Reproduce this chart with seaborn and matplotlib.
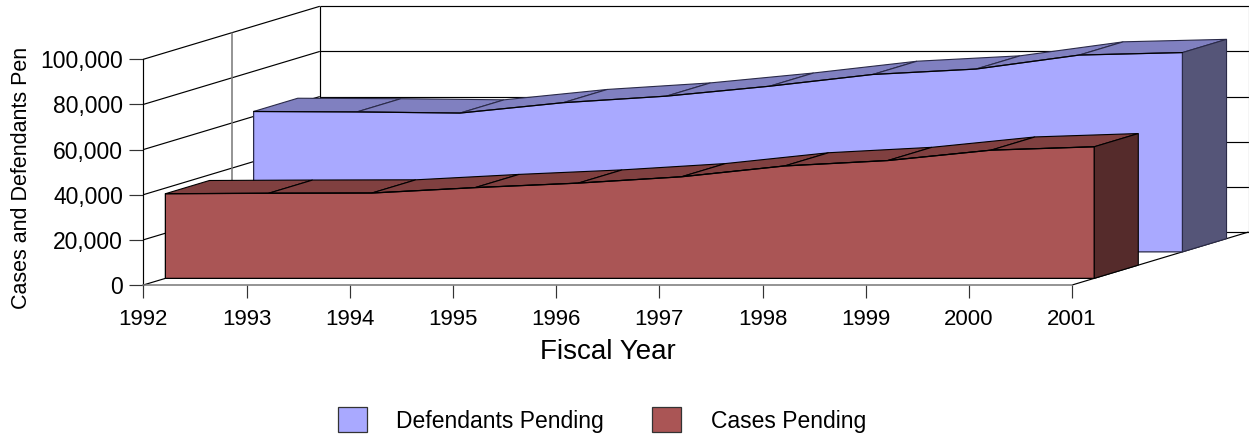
import numpy as np
import matplotlib
matplotlib.use('Agg')
import matplotlib.pyplot as plt
from matplotlib.patches import Patch
import seaborn as sns

years = [1992, 1993, 1994, 1995, 1996, 1997, 1998, 1999, 2000, 2001]
defendants_pending = [62200, 62000, 61500, 66100, 69000, 73400, 78600, 81000, 87200, 88300]
cases_pending = [37500, 37700, 37800, 40200, 42200, 45000, 49800, 52200, 56800, 58300]
y_ticks = [0, 20000, 40000, 60000, 80000, 100000]
y_tick_labels = ['0', '20,000', '40,000', '60,000', '80,000', '100,000']

W, H = 1249, 436
YEAR_PX = 103.2
VALUE_PX = 225.7 / 100000
X0_PX, Y0_PX = 143.3, 285.0

# depth axis: 0 is the front of the floor, 1 is the back wall
DEPTH_DX = 176.5 / YEAR_PX
DEPTH_DY = 53.0 / VALUE_PX


def project(year, value, depth):
    return np.asarray(year) + depth * DEPTH_DX, np.asarray(value) + depth * DEPTH_DY


def draw_ribbon(ax, values, near, far, front, top, side, edge, z):
    xs = np.array(years, dtype=float)
    vals = np.array(values, dtype=float)
    fx, fy = project(xs, vals, near)
    bx, by = project(xs, vals, far)
    base_x, base_y = project(xs, np.zeros(len(xs)), near)
    # top face, one facet per year
    for i in range(len(xs) - 1):
        ax.fill([fx[i], fx[i + 1], bx[i + 1], bx[i]], [fy[i], fy[i + 1], by[i + 1], by[i]],
                facecolor=top, edgecolor=edge, linewidth=0.8, zorder=z)
    # right side
    sx, sy = project(xs[-1], 0, far)
    ax.fill([fx[-1], bx[-1], sx, base_x[-1]], [fy[-1], by[-1], sy, base_y[-1]],
            facecolor=side, edgecolor=edge, linewidth=0.8, zorder=z)
    # front face
    ax.fill(np.r_[fx, base_x[::-1]], np.r_[fy, base_y[::-1]],
            facecolor=front, edgecolor=edge, linewidth=0.9, zorder=z + 0.1)
    sns.lineplot(x=fx, y=fy, color='black', linewidth=0.8, ax=ax, zorder=z + 0.2)


sns.set_style('white')
plt.rcParams['font.family'] = ['Liberation Sans', 'DejaVu Sans']

fig = plt.figure(figsize=(W / 100, H / 100), dpi=100)
ax = fig.add_axes([0, 0, 1, 1])
ax.patch.set_alpha(0)
ax.set_xlim(1992 - X0_PX / YEAR_PX, 1992 + (W - X0_PX) / YEAR_PX)
ax.set_ylim(-(H - Y0_PX) / VALUE_PX, Y0_PX / VALUE_PX)

# walls and floor
wall = dict(color='black', linewidth=0.85, zorder=1, solid_capstyle='butt')
for v in y_ticks:
    x_line, y_line = project([1992, 1992], [v, v], np.array([0, 1]))
    ax.plot([1992, x_line[1]], [v, y_line[1]], **wall)
    x_back, y_back = project([1992, 2001], [v, v], 1)
    ax.plot(x_back, y_back, **wall)
x_back, y_back = project([1992, 1992], [0, 100000], 1)
ax.plot(x_back, y_back, **wall)
x_back, y_back = project([2001, 2001], [0, 100000], 1)
ax.plot(x_back, y_back, color='#999999', linewidth=0.85, zorder=1)
x_mid, y_mid = project([1992, 1992], [0, 100000], 0.5)
ax.plot(x_mid, y_mid, color='#777777', linewidth=1.1, zorder=1)
x_side, y_side = project([2001, 2001], [0, 0], np.array([0, 1]))
ax.plot([2001, x_side[1]], [0, y_side[1]], **wall)

draw_ribbon(ax, defendants_pending, 0.625, 0.875, '#A9A9FF', '#8080C0', '#555578', '#2A2A48', 2)
draw_ribbon(ax, cases_pending, 0.125, 0.375, '#AA5555', '#804040', '#552B2B', 'black', 3)

for name in ['top', 'right']:
    ax.spines[name].set_visible(False)
ax.spines['left'].set_position(('data', 1992))
ax.spines['left'].set_bounds(0, 100000)
ax.spines['left'].set_color('black')
ax.spines['left'].set_linewidth(0.85)
ax.spines['bottom'].set_position(('data', 0))
ax.spines['bottom'].set_bounds(1992, 2001)
ax.spines['bottom'].set_color('#777777')
ax.spines['bottom'].set_linewidth(1.1)

ax.set_xticks(years)
ax.set_xticklabels([str(y) for y in years], fontsize=16, color='black')
ax.set_yticks(y_ticks)
ax.set_yticklabels(y_tick_labels, fontsize=16.5, color='black')
ax.tick_params(axis='x', bottom=True, direction='out', length=9.4, width=0.85, color='#333333', pad=8)
ax.tick_params(axis='y', left=True, direction='out', length=10, width=0.85, color='#333333', pad=4.5)

ax.set_xlabel('Fiscal Year', fontsize=20, color='black', va='center')
ax.xaxis.set_label_coords(608 / W, 1 - 352 / H)
ax.set_ylabel('Cases and Defendants Pen', fontsize=15.5, color='black', va='center')
ax.yaxis.set_label_coords(22 / W, 1 - 178 / H)

handles = [Patch(facecolor='#A9A9FF', edgecolor='#333333', linewidth=0.9, label='Defendants Pending'),
           Patch(facecolor='#AA5555', edgecolor='#333333', linewidth=0.9, label='Cases Pending')]
fig.legend(handles=handles, ncol=2, frameon=False, fontsize=16.5, loc='center', labelcolor='black',
           bbox_to_anchor=(602 / W, 1 - 420 / H), handlelength=1.26, handleheight=1.3,
           handletextpad=1.3, columnspacing=2.1, borderpad=0, borderaxespad=0)

fig.savefig('out.png', dpi=100)
